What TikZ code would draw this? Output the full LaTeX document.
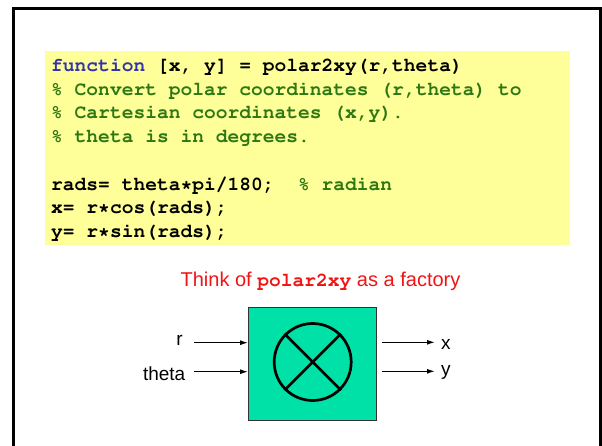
\documentclass[tikz,border=0pt]{standalone}
\usepackage[T1]{fontenc}
\usepackage{fontspec}
\setmainfont{Liberation Sans}
\setmonofont{Liberation Mono}
\usetikzlibrary{arrows.meta}
\definecolor{codeyellow}{RGB}{255,255,153}
\definecolor{kwblue}{RGB}{51,51,170}
\definecolor{cmtgreen}{RGB}{45,120,20}
\definecolor{boxgreen}{RGB}{0,225,168}
\definecolor{redtext}{RGB}{240,20,20}
\newcommand{\courbold}{\fontencoding{T1}\fontfamily{pcr}\fontseries{b}\fontshape{n}\fontsize{19.6}{23}\selectfont}
\begin{document}
\begin{tikzpicture}[x=1pt,y=-1pt,
  code/.style={anchor=base west, inner sep=0pt, font=\courbold},
  lab/.style={inner sep=0pt, font=\fontsize{19}{22}\selectfont},
  arr/.style={line width=1.3pt, -{Latex[length=8pt,width=5pt]}},
  cmt/.style={text=cmtgreen},
  ]
\useasboundingbox (0,0) rectangle (602,445);
\begin{scope}
  \clip (0,0) rectangle (602,445);
  \draw[line width=3pt] (13.5,8.5) rectangle (600.5,470);
\end{scope}
\fill[codeyellow] (45,51) rectangle (570,245);
\node[code] (l1) at (51,71.5) {\textcolor{kwblue}{function} [x, y] = polar2xy(r,theta)};
\node[code,cmt] (l2) at (51,95.2) {\% Convert polar coordinates (r,theta) to};
\node[code,cmt] (l3) at (51,118.9) {\% Cartesian coordinates (x,y).};
\node[code,cmt] (l4) at (51,142.6) {\% theta is in degrees.};
\node[code] (l5) at (51,190) {rads= theta*pi/180;~~\textcolor{cmtgreen}{\% radian}};
\node[code] (l6) at (51,213.7) {x= r*cos(rads);};
\node[code] (l7) at (51,237.4) {y= r*sin(rads);};
\node[lab, anchor=base, text=redtext, font=\fontsize{20}{23}\selectfont] (title) at (320.5,286)
  {Think of {\courbold polar2xy} as a factory};
\node[draw=black!80, fill=boxgreen, line width=0.8pt, minimum width=128pt,
      minimum height=113pt, inner sep=0pt] (box) at (312.5,363.8) {};
\node[draw, circle, line width=2.7pt, minimum size=77pt, inner sep=0pt] (disc) at (312.7,362) {};
\draw[line width=2.7pt] (disc.45) -- (disc.225);
\draw[line width=2.7pt] (disc.135) -- (disc.-45);
\node[lab, anchor=base east] (r) at (183,345) {r};
\node[lab, anchor=base east] (theta) at (185.5,380) {theta};
\node[lab, anchor=base west] (x) at (441,349.3) {x};
\node[lab, anchor=base west] (y) at (441,375) {y};
\coordinate (rin) at (194,342.7);
\coordinate (thin) at (194,371.7);
\coordinate (xo) at (435,342.3);
\coordinate (yo) at (435,371.3);
\draw[arr] (rin) -- (rin -| box.west);
\draw[arr] (thin) -- (thin -| box.west);
\draw[arr, shorten <=5pt] (box.east |- xo) -- (xo);
\draw[arr, shorten <=5pt] (box.east |- yo) -- (yo);
\end{tikzpicture}
\end{document}
